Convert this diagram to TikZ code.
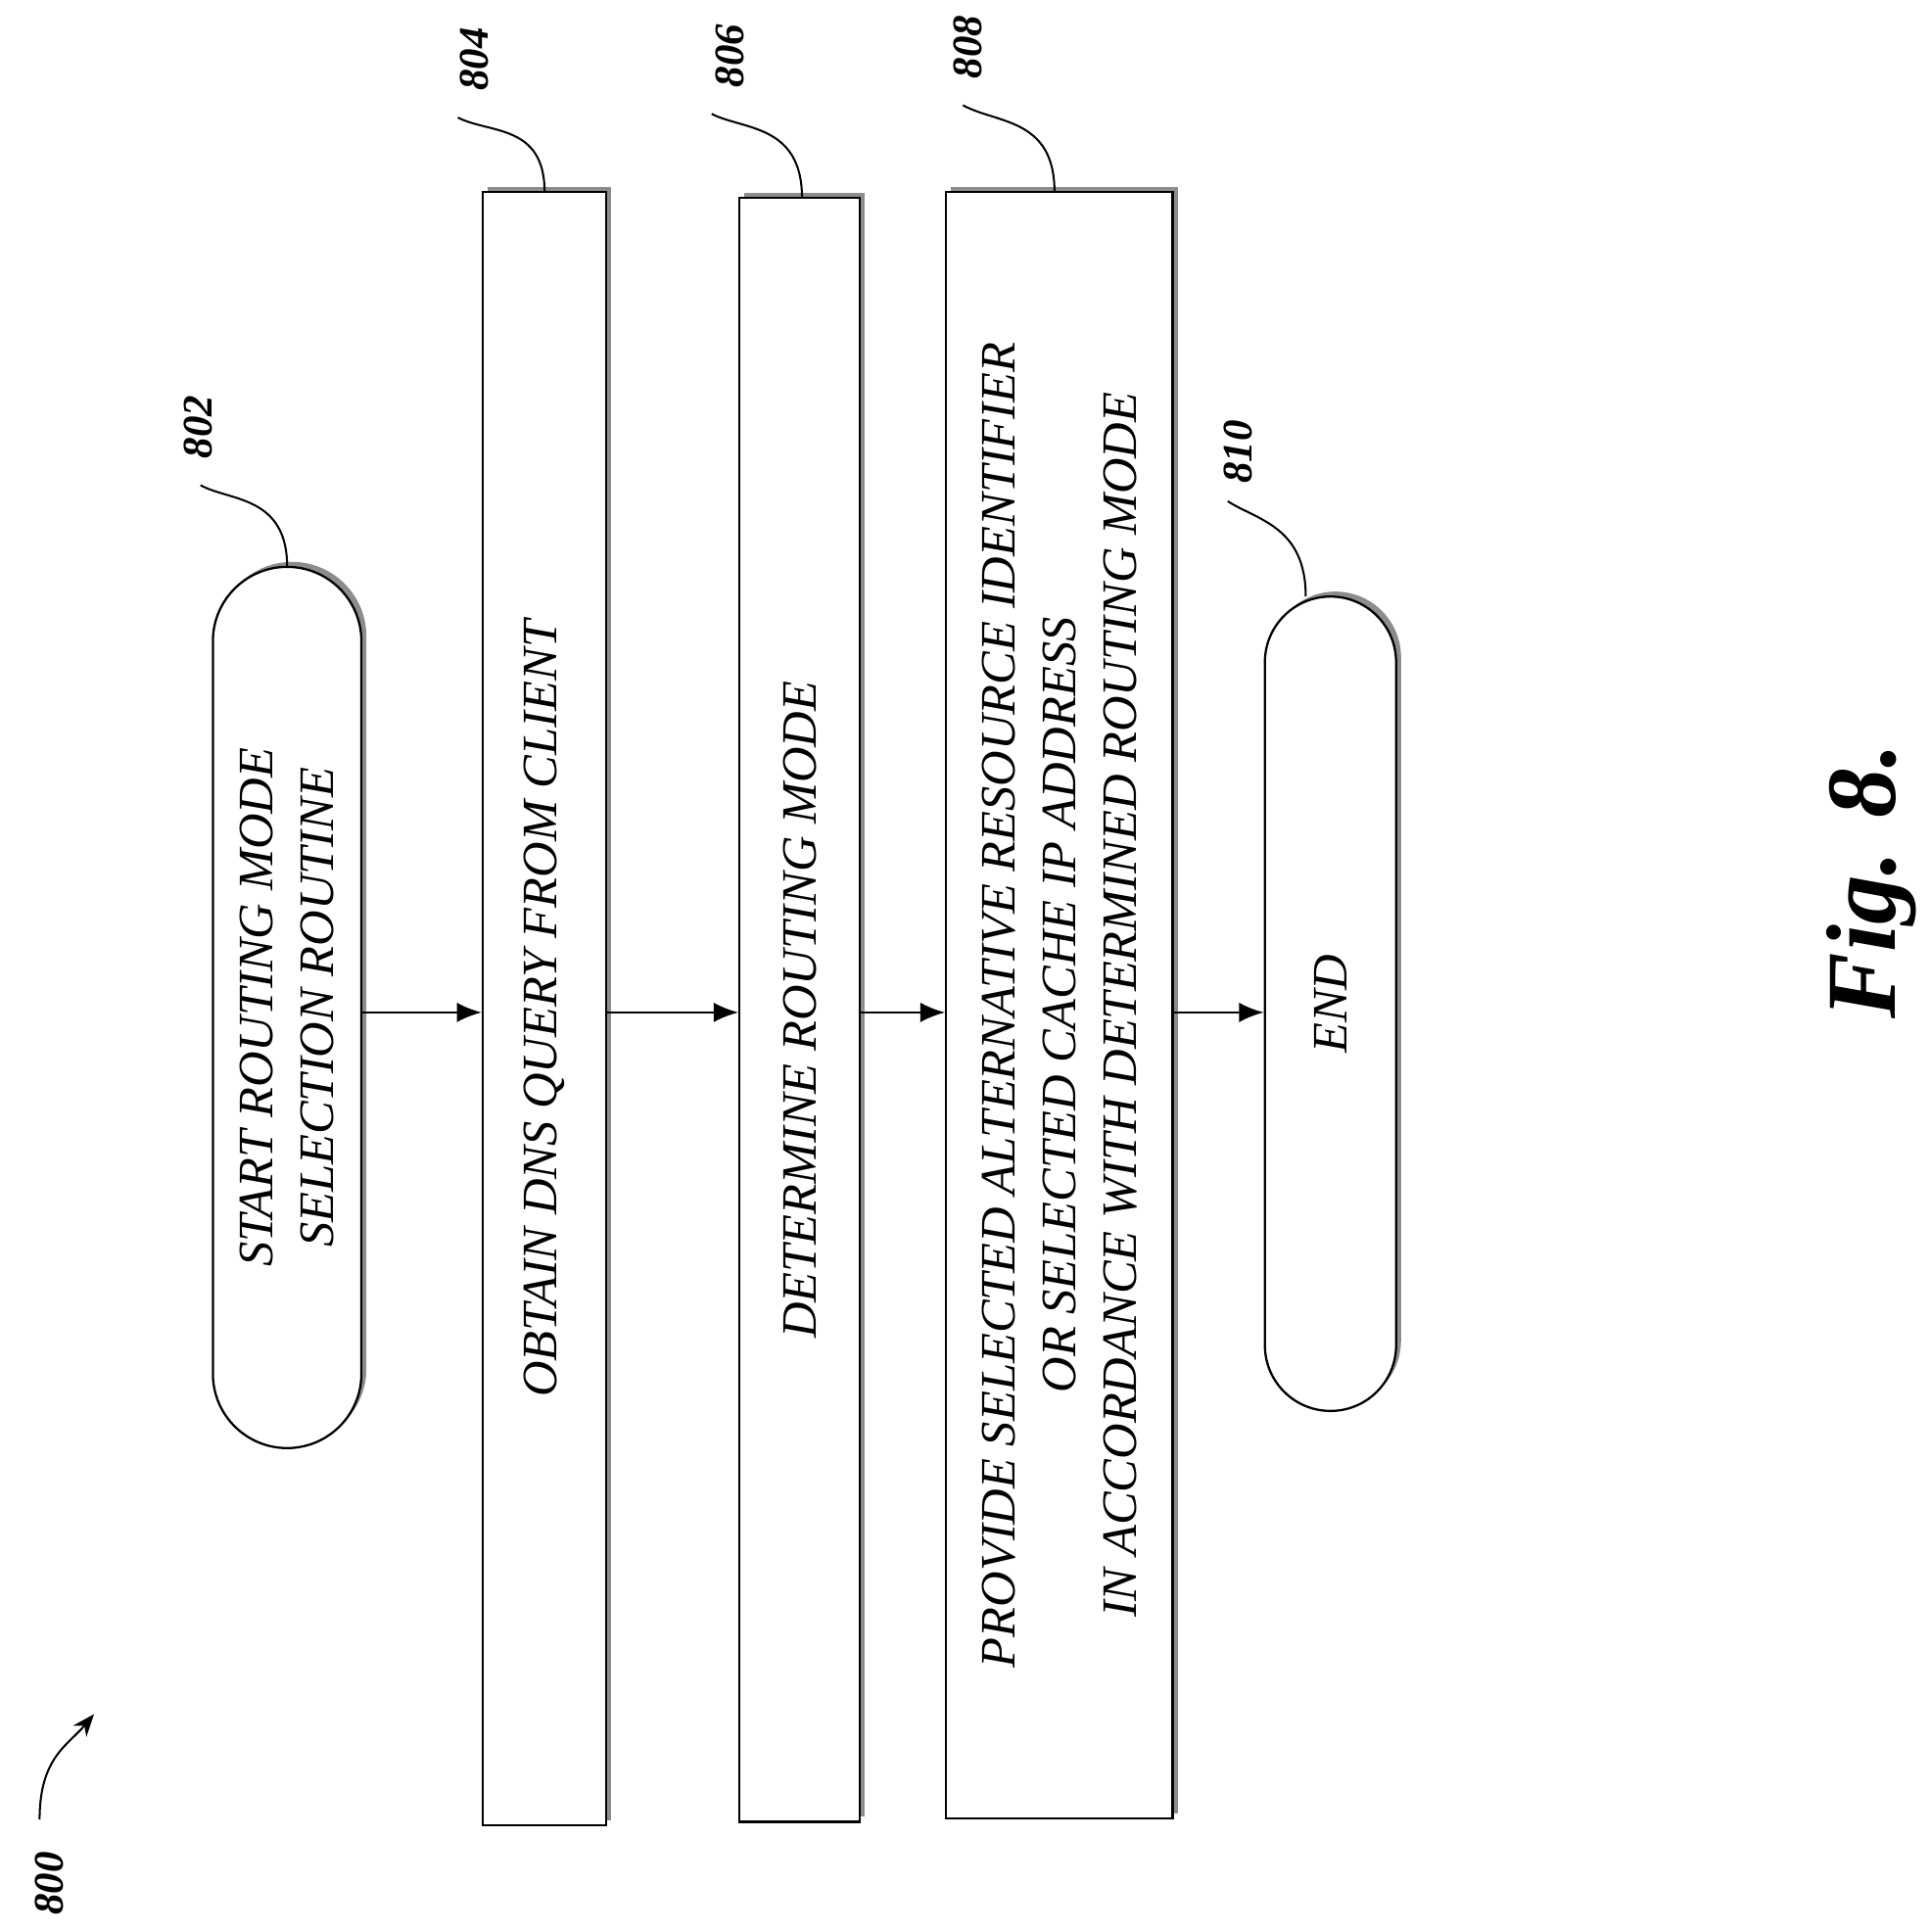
\documentclass[tikz,border=0pt]{standalone}
\usepackage{fontspec}
\setmainfont{Liberation Serif}
\usetikzlibrary{shadows,arrows.meta}
\tikzset{
  flowbox/.style={draw, line width=0.9pt, fill=white, inner sep=0pt,
    drop shadow={shadow xshift=2pt, shadow yshift=2pt, fill=gray!90, opacity=1}},
  term/.style={flowbox, rounded corners=#1},
  txt/.style={rotate=90, align=center, font=\fontsize{20}{24.5}\selectfont\itshape},
  num/.style={rotate=90, font=\fontsize{17}{20}\selectfont\bfseries\itshape},
  flow/.style={-{Latex[length=10pt,width=8pt]}, line width=0.9pt},
}
\begin{document}
\begin{tikzpicture}[x=0.5pt,y=-0.5pt]
\useasboundingbox (0,0) rectangle (1560,1561);

% steps
\node[term=30pt, minimum width=60pt, minimum height=356pt] (start) at (232,814) {};
\node[flowbox, minimum width=50pt, minimum height=660pt] (obtain) at (440,815) {};
\node[flowbox, minimum width=48.5pt, minimum height=656pt] (determine) at (646,816) {};
\node[flowbox, minimum width=91.5pt, minimum height=657pt] (provide) at (856,812) {};
\node[term=26.5pt, minimum width=53pt, minimum height=329pt] (end) at (1075,811) {};
\coordinate (row) at (0,818);

% texts
\node[txt] (tstart) at (232,814) {START ROUTING MODE\\SELECTION ROUTINE};
\node[txt] (tobtain) at (440,815) {OBTAIN DNS QUERY FROM CLIENT};
\node[txt] (tdetermine) at (646,816) {DETERMINE ROUTING MODE};
\node[txt] (tprovide) at (856,812) {PROVIDE SELECTED ALTERNATIVE RESOURCE IDENTIFIER\\OR SELECTED CACHE IP ADDRESS\\IN ACCORDANCE WITH DETERMINED ROUTING MODE};
\node[txt] (tend) at (1075,811) {END};

% connectors
\draw[flow] (start.east |- row) -- (obtain.west |- row);
\draw[flow] (obtain.east |- row) -- (determine.west |- row);
\draw[flow] (determine.east |- row) -- (provide.west |- row);
\draw[flow] (provide.east |- row) -- (end.west |- row);

% reference numerals
\node[num] (n802) at (160,345) {802};
\draw[line width=0.8pt] (232,458) .. controls (232,400) and (185,405) .. (162,392);
\node[num] (n804) at (383,48) {804};
\draw[line width=0.8pt] (440,155) .. controls (440,100) and (395,108) .. (370,95);
\node[num] (n806) at (590,45) {806};
\draw[line width=0.8pt] (648,160) .. controls (648,100) and (600,105) .. (575,92);
\node[num] (n808) at (782,38) {808};
\draw[line width=0.8pt] (852,155) .. controls (852,95) and (805,100) .. (778,85);
\node[num] (n810) at (1000,365) {810};
\draw[line width=0.8pt] (1055,482) .. controls (1055,425) and (1015,420) .. (992,405);
\node[num] (n800) at (40,1522) {800};
\draw[-{Stealth[length=9pt,width=7pt]}, line width=0.8pt] (32,1470) .. controls (32,1420) and (55,1410) .. (76,1385);

\node[rotate=90, font=\fontsize{40}{44}\selectfont\bfseries\itshape] (fig) at (1512,712) {Fig. 8.};
\end{tikzpicture}
\end{document}
